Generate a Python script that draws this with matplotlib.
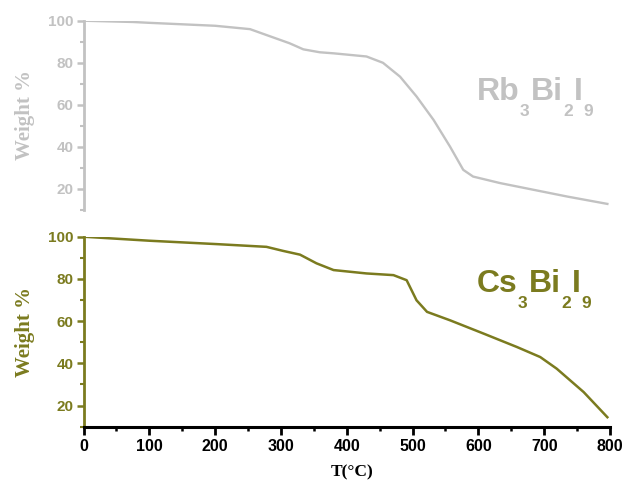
import numpy as np
import matplotlib
matplotlib.use('Agg')
import matplotlib.pyplot as plt
from matplotlib.ticker import MultipleLocator

# TGA data (T in degC, weight in %)
rb_temp = [0, 75, 100, 200, 253, 278, 313, 334, 359, 380, 430, 455, 481, 506, 532,
           557, 577, 592, 633, 684, 735, 796]
rb_weight = [100, 99.4, 99.0, 97.6, 96.0, 93.2, 89.3, 86.4, 85.0, 84.5, 83.0, 80.0,
             73.4, 64.0, 52.8, 40.1, 29.1, 25.9, 22.8, 19.6, 16.4, 12.9]

cs_temp = [0, 100, 202, 278, 303, 329, 354, 380, 430, 471, 491, 506, 522, 557, 608,
           659, 694, 719, 760, 796]
cs_weight = [100, 98.1, 96.5, 95.2, 93.3, 91.5, 87.4, 84.2, 82.6, 81.8, 79.4, 69.9,
             64.4, 60.4, 54.1, 47.7, 43.0, 37.5, 26.4, 14.5]

x_ticks = [0, 100, 200, 300, 400, 500, 600, 700, 800]
y_ticks = [20, 40, 60, 80, 100]

# formula pieces: (text, is_subscript)
rb_formula = [('Rb', False), ('3', True), ('Bi', False), ('2', True), ('I', False), ('9', True)]
cs_formula = [('Cs', False), ('3', True), ('Bi', False), ('2', True), ('I', False), ('9', True)]

GRAY = '#c2c2c2'
OLIVE = '#7b7b1f'

plt.rcParams['font.family'] = ['Liberation Sans', 'DejaVu Sans']

fig = plt.figure(figsize=(6.25, 4.82), dpi=100)
ax_top = fig.add_axes([0.1336, 0.5643, 0.8424, 0.3927])
ax_bot = fig.add_axes([0.1336, 0.1147, 0.8424, 0.3942])


def style_y(ax, color):
    ax.set_xlim(0, 800)
    ax.set_ylim(10, 100)
    ax.set_yticks(y_ticks)
    ax.yaxis.set_minor_locator(MultipleLocator(10))
    ax.spines['top'].set_visible(False)
    ax.spines['right'].set_visible(False)
    ax.spines['left'].set_color(color)
    ax.spines['left'].set_linewidth(2)
    ax.tick_params(axis='y', which='major', direction='out', length=5, width=1.8,
                   color=color, labelcolor=color, labelsize=11, pad=2)
    ax.tick_params(axis='y', which='minor', direction='out', length=3, width=1.5, color=color)
    for lab in ax.get_yticklabels():
        lab.set_fontweight('bold')
    ax.set_ylabel('Weight %', fontsize=15, fontweight='bold', color=color,
                  family=['Liberation Serif', 'DejaVu Serif'])
    ax.yaxis.set_label_coords(-0.092, 0.5)


def formula(ax, x, y, pieces, color, big=23, small=12.5, drop=8.7):
    """write a chemical formula with deep subscripts, piece by piece"""
    prev = ax.text(x, y, pieces[0][0], color=color, fontsize=big, fontweight='bold',
                   va='baseline', ha='left')
    prev_sub = False
    for txt, sub in pieces[1:]:
        if sub and not prev_sub:
            dy = -drop
        elif prev_sub and not sub:
            dy = drop
        else:
            dy = 0
        prev = ax.annotate(txt, xy=(1, 0), xycoords=prev, xytext=(0.6, dy),
                           textcoords='offset points', color=color,
                           fontsize=small if sub else big, fontweight='bold',
                           ha='left', va='bottom')
        prev_sub = sub


# top panel: Rb3Bi2I9
ax_top.plot(rb_temp, rb_weight, color=GRAY, lw=1.7)
style_y(ax_top, GRAY)
ax_top.spines['bottom'].set_visible(False)
ax_top.set_xticks([])
formula(ax_top, 597, 62.3, rb_formula, GRAY)

# bottom panel: Cs3Bi2I9
ax_bot.plot(cs_temp, cs_weight, color=OLIVE, lw=1.8)
style_y(ax_bot, OLIVE)
ax_bot.spines['bottom'].set_color('black')
ax_bot.spines['bottom'].set_linewidth(2.2)
ax_bot.set_xticks(x_ticks)
ax_bot.xaxis.set_minor_locator(MultipleLocator(50))
ax_bot.tick_params(axis='x', which='major', direction='out', length=6, width=2,
                   labelsize=11.5, pad=3)
ax_bot.tick_params(axis='x', which='minor', direction='out', length=3, width=1.8)
for lab in ax_bot.get_xticklabels():
    lab.set_fontweight('bold')
ax_bot.set_xlabel('T(°C)', fontsize=12.5, fontweight='bold',
                  family=['Liberation Serif', 'DejaVu Serif'])
ax_bot.xaxis.set_label_coords(0.51, -0.2)
formula(ax_bot, 597, 73.9, cs_formula, OLIVE)

plt.savefig('out.png', dpi=100)
plt.close()
